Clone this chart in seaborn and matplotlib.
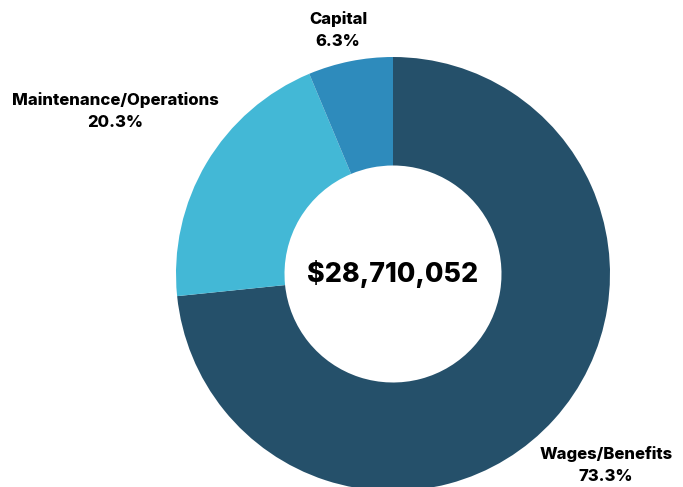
import matplotlib
matplotlib.use("Agg")
import matplotlib.pyplot as plt
import seaborn as sns

categories = ["Wages/Benefits", "Maintenance/Operations", "Capital"]
shares = [73.3, 20.3, 6.3]
colors = ["#25506A", "#43B8D6", "#2E8BBC"]
total_label = r"\$28,710,052"

# label anchor positions in pixels (x from left, y from top)
label_pos = {
    "Wages/Benefits": (606, 465),
    "Maintenance/Operations": (115, 111),
    "Capital": (338, 30),
}

sns.set_theme(style="white")
plt.rcParams["font.family"] = ["Inter", "DejaVu Sans"]

W, H = 683, 487
cx, cy, r = 393, 274, 217

fig = plt.figure(figsize=(W / 100, H / 100), dpi=100)
ax = fig.add_axes([0, 0, 1, 1])

ax.pie(shares, colors=colors, startangle=90, counterclock=False,
       radius=1, wedgeprops=dict(width=0.5, edgecolor="none"))
ax.set_aspect("equal")
ax.set_xlim(-cx / r, (W - cx) / r)
ax.set_ylim(-(H - cy) / r, cy / r)
ax.axis("off")

ax.text(0, 0, total_label, ha="center", va="center",
        fontsize=19.3, fontweight="heavy", color="black")

for name, val in zip(categories, shares):
    px, py = label_pos[name]
    fig.text(px / W, 1 - py / H, f"{name}\n{val:.1f}%", ha="center", va="center",
             fontsize=12, fontweight="heavy", color="black", linespacing=1.55)

fig.savefig("out.png", dpi=100)
